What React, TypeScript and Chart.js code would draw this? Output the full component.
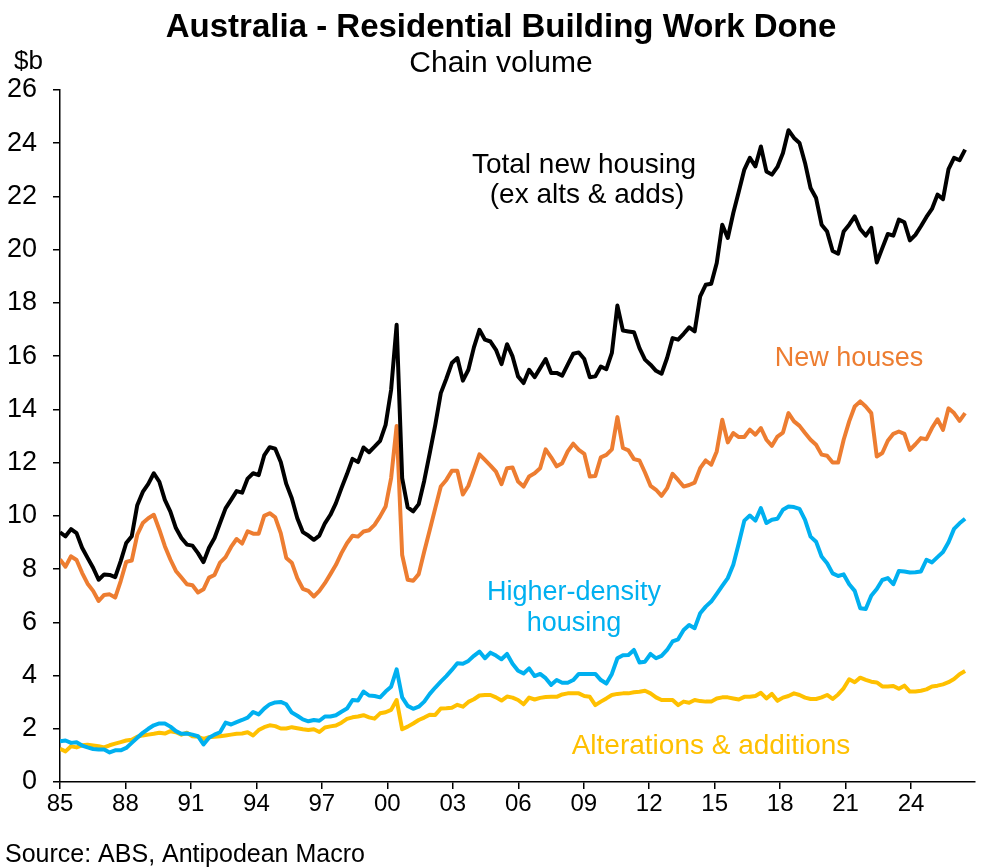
import React, { useEffect, useRef } from "react";
import { Chart, registerables, Plugin } from "chart.js";

Chart.register(...registerables);

const FONT = '"Liberation Sans", Arial, sans-serif';

// quarterly points, first one sits on the "85" tick
const START_YEAR = 1985;
const YEARS_PER_POINT = 0.2529;
const X_MIN = 1985;
const X_MAX = 2026.93;
const X_TICK_YEARS = [1985, 1988, 1991, 1994, 1997, 2000, 2003, 2006, 2009, 2012, 2015, 2018, 2021, 2024];

const Y_MIN = 0;
const Y_MAX = 26;
const Y_STEP = 2;

const totalNewHousing = [
  9.38, 9.23, 9.5, 9.35, 8.8, 8.42, 8.05, 7.6, 7.8, 7.78, 7.7, 8.3, 8.98, 9.23, 10.4, 10.9, 11.2, 11.6, 11.28, 10.6, 10.16,
  9.54, 9.17, 8.92, 8.88, 8.6, 8.26, 8.8, 9.17, 9.73, 10.28, 10.6, 10.93, 10.87, 11.4, 11.6, 11.53, 12.27, 12.58, 12.52,
  12.02, 11.2, 10.66,
  9.91, 9.39, 9.26, 9.1, 9.26, 9.72, 10.04, 10.48, 11.04, 11.57, 12.14, 12.02, 12.57, 12.39, 12.6, 12.82, 13.42, 14.74,
  17.18, 11.42, 10.32, 10.17, 10.44, 11.32, 12.36, 13.42, 14.61, 15.15, 15.74, 15.93, 15.08, 15.49, 16.33, 16.99, 16.62,
  16.55, 16.24, 15.7, 16.45, 15.99, 15.24, 14.99, 15.49,
  15.21, 15.55, 15.89, 15.37, 15.37, 15.27, 15.68, 16.09, 16.14, 15.89, 15.21, 15.24, 15.61, 15.51, 16.12, 17.9, 16.96,
  16.93, 16.9, 16.3, 15.87, 15.68, 15.45, 15.34, 15.93, 16.68, 16.62, 16.84, 17.08, 16.93, 18.25, 18.68, 18.72, 19.5,
  20.94, 20.44, 21.38, 22.19, 23.01, 23.45, 23.13, 23.88, 22.94, 22.82,
  23.11, 23.63, 24.49, 24.2, 24.01, 23.26, 22.32, 21.94, 20.94, 20.68, 19.95, 19.85, 20.68, 20.94, 21.25, 20.78, 20.53,
  20.82, 19.52, 20.06, 20.59, 20.53, 21.13, 21.03, 20.35, 20.56, 20.88, 21.23, 21.53, 22.07, 21.9, 23.03, 23.45, 23.36,
  23.76,
];

const newHouses = [
  8.36, 8.09, 8.48, 8.34, 7.86, 7.45, 7.18, 6.8, 7.03, 7.05, 6.93, 7.55, 8.27, 8.32, 9.29, 9.73, 9.91, 10.04, 9.48, 8.86,
  8.36, 7.93, 7.68, 7.43, 7.39, 7.12, 7.24, 7.68, 7.78, 8.24, 8.45, 8.83, 9.13, 8.96, 9.42, 9.33, 9.33, 10.0, 10.1, 9.94,
  9.35, 8.42, 8.24,
  7.66, 7.26, 7.18, 6.97, 7.18, 7.47, 7.81, 8.16, 8.6, 8.97, 9.25, 9.22, 9.41, 9.46, 9.66, 9.98, 10.35, 11.42, 13.38, 8.53,
  7.6, 7.56, 7.81, 8.66, 9.47, 10.29, 11.1, 11.35, 11.69, 11.69, 10.8, 11.13, 11.72, 12.31, 12.1, 11.89, 11.66, 11.19,
  11.79, 11.82, 11.29, 11.1, 11.48,
  11.6, 11.79, 12.5, 12.2, 11.86, 11.98, 12.42, 12.71, 12.48, 12.33, 11.48, 11.5, 12.2, 12.29, 12.5, 13.71, 12.55, 12.46,
  12.13, 12.08, 11.63, 11.13, 10.98, 10.75, 11.04, 11.58, 11.35, 11.1, 11.16, 11.25, 11.79, 12.08, 11.92, 12.42, 13.61,
  12.76, 13.11, 12.96, 12.96, 13.24, 13.05, 13.3, 12.86, 12.63,
  12.98, 13.13, 13.86, 13.55, 13.38, 13.11, 12.86, 12.67, 12.3, 12.26, 12.0, 12.0, 12.86, 13.55, 14.11, 14.3, 14.11,
  13.86, 12.23, 12.36, 12.82, 13.08, 13.17, 13.08, 12.48, 12.69, 12.92, 12.88, 13.3, 13.63, 13.23, 14.04, 13.86, 13.57,
  13.86,
];

const higherDensity = [
  1.53, 1.56, 1.47, 1.49, 1.37, 1.3, 1.24, 1.22, 1.22, 1.11, 1.19, 1.19, 1.28, 1.47, 1.66, 1.85, 2.0, 2.13, 2.2, 2.2, 2.08,
  1.91, 1.81, 1.82, 1.78, 1.72, 1.41, 1.66, 1.78, 1.87, 2.23, 2.16, 2.25, 2.33, 2.42, 2.63, 2.54, 2.76, 2.92, 2.99, 3.01,
  2.92, 2.61,
  2.49, 2.35, 2.28, 2.33, 2.3, 2.46, 2.46, 2.51, 2.64, 2.76, 3.08, 3.06, 3.4, 3.25, 3.23, 3.18, 3.4, 3.58, 4.23, 3.18, 2.86,
  2.75, 2.83, 3.02, 3.31, 3.55, 3.77, 3.98, 4.21, 4.46, 4.44, 4.55, 4.74, 4.9, 4.65, 4.86, 4.75, 4.61, 4.81, 4.44, 4.18,
  4.08, 4.27,
  3.98, 4.06, 3.9, 3.65, 3.83, 3.73, 3.73, 3.83, 4.06, 4.06, 4.06, 4.06, 3.83, 3.7, 4.06, 4.65, 4.76, 4.77, 4.96, 4.49,
  4.52, 4.81, 4.65, 4.74, 4.96, 5.28, 5.36, 5.71, 5.9, 5.78, 6.34, 6.59, 6.78, 7.07, 7.37, 7.66, 8.16, 8.97, 9.82, 10.01,
  9.82, 10.29, 9.73, 9.85,
  9.89, 10.23, 10.35, 10.33, 10.26, 9.85, 9.22, 9.03, 8.47, 8.22, 7.84, 7.74, 7.8, 7.43, 7.18, 6.53, 6.5, 7.0, 7.25, 7.59,
  7.66, 7.43, 7.93, 7.91, 7.87, 7.88, 7.91, 8.35, 8.25, 8.45, 8.64, 9.01, 9.51, 9.72, 9.89,
];

const alterations = [
  1.25, 1.15, 1.34, 1.3, 1.38, 1.4, 1.37, 1.34, 1.3, 1.38, 1.44, 1.5, 1.56, 1.59, 1.7, 1.75, 1.78, 1.81, 1.85, 1.82, 1.91,
  1.87, 1.78, 1.85, 1.72, 1.7, 1.62, 1.68, 1.7, 1.72, 1.75, 1.78, 1.81, 1.82, 1.87, 1.75, 1.95, 2.06, 2.13, 2.1, 2.01,
  2.01, 2.06,
  2.02, 1.98, 1.95, 1.98, 1.88, 2.05, 2.09, 2.12, 2.23, 2.37, 2.43, 2.46, 2.51, 2.43, 2.38, 2.58, 2.62, 2.71, 3.08, 1.98,
  2.08, 2.2, 2.33, 2.42, 2.53, 2.52, 2.76, 2.77, 2.79, 2.9, 2.83, 3.01, 3.11, 3.25, 3.27, 3.27, 3.18, 3.06, 3.21, 3.17,
  3.08, 2.92, 3.17,
  3.1, 3.16, 3.19, 3.2, 3.2, 3.29, 3.33, 3.33, 3.33, 3.23, 3.2, 2.89, 3.02, 3.14, 3.27, 3.31, 3.33, 3.33, 3.37, 3.39, 3.43,
  3.33, 3.18, 3.08, 3.08, 3.08, 2.89, 3.02, 2.98, 3.08, 3.04, 3.02, 3.02, 3.14, 3.18, 3.18, 3.14, 3.1, 3.2, 3.2, 3.23,
  3.35, 3.14, 3.31,
  3.05, 3.17, 3.23, 3.33, 3.27, 3.17, 3.12, 3.12, 3.18, 3.27, 3.12, 3.29, 3.52, 3.86, 3.75, 3.92, 3.84, 3.77, 3.74, 3.59,
  3.59, 3.61, 3.5, 3.62, 3.4, 3.4, 3.43, 3.48, 3.59, 3.62, 3.67, 3.75, 3.87, 4.05, 4.17,
];

const BLACK = "#000000";
const ORANGE = "#ED7D31";
const BLUE = "#00B0F0";
const YELLOW = "#FFC000";

const toPoints = (values: number[]) =>
  values.map((v, i) => ({ x: START_YEAR + i * YEARS_PER_POINT, y: v }));

const textPlugin: Plugin<"line"> = {
  id: "textPlugin",
  afterDraw(chart) {
    const { ctx } = chart;
    const put = (text: string, x: number, y: number, size: number, color: string, align: CanvasTextAlign, bold = false) => {
      ctx.font = `${bold ? "bold " : ""}${size}px ${FONT}`;
      ctx.fillStyle = color;
      ctx.textAlign = align;
      ctx.textBaseline = "alphabetic";
      ctx.fillText(text, x, y);
    };
    ctx.save();
    put("Australia - Residential Building Work Done", 501, 37, 33, BLACK, "center", true);
    put("Chain volume", 501, 72, 30, BLACK, "center");
    put("$b", 14, 69, 26, BLACK, "left");
    put("Total new housing", 584, 173, 28, BLACK, "center");
    put("(ex alts & adds)", 587, 203, 28, BLACK, "center");
    put("New houses", 849, 366, 27, ORANGE, "center");
    put("Higher-density", 574, 600, 27, BLUE, "center");
    put("housing", 574, 631, 27, BLUE, "center");
    put("Alterations & additions", 711, 754, 28, YELLOW, "center");
    put("Source: ABS, Antipodean Macro", 5, 862, 25, BLACK, "left");
    ctx.restore();
  },
};

const App: React.FC = () => {
  const canvasRef = useRef<HTMLCanvasElement | null>(null);

  useEffect(() => {
    document.body.style.margin = "0";
    const ctx = canvasRef.current?.getContext("2d");
    if (!ctx) return;

    const line = (label: string, values: number[], color: string) => ({
      label,
      data: toPoints(values),
      borderColor: color,
      backgroundColor: color,
      borderWidth: 4,
      pointRadius: 0,
      tension: 0,
      borderJoinStyle: "round" as const,
      fill: false,
    });

    const chart = new Chart(ctx, {
      type: "line",
      data: {
        datasets: [
          line("Total new housing (ex alts & adds)", totalNewHousing, BLACK),
          line("New houses", newHouses, ORANGE),
          line("Higher-density housing", higherDensity, BLUE),
          line("Alterations & additions", alterations, YELLOW),
        ],
      },
      options: {
        animation: false,
        responsive: true,
        maintainAspectRatio: false,
        layout: { padding: { top: 90, right: 31, left: 0, bottom: 0 } },
        plugins: {
          legend: { display: false },
          title: { display: false },
          tooltip: { enabled: false },
        },
        scales: {
          x: {
            type: "linear",
            min: X_MIN,
            max: X_MAX,
            afterBuildTicks: (scale) => {
              scale.ticks = X_TICK_YEARS.map((v) => ({ value: v }));
            },
            afterFit: (scale) => {
              scale.height = 85;
            },
            grid: { drawOnChartArea: false, drawTicks: true, tickLength: 7, color: BLACK, lineWidth: 1.5 },
            border: { display: true, color: BLACK, width: 1.5 },
            ticks: {
              autoSkip: false,
              maxRotation: 0,
              padding: 1,
              color: BLACK,
              font: { family: FONT, size: 24 },
              callback: (v) => String(Math.round(Number(v)) % 100).padStart(2, "0"),
            },
          },
          y: {
            min: Y_MIN,
            max: Y_MAX,
            afterFit: (scale) => {
              scale.width = 60;
            },
            grid: { drawOnChartArea: false, drawTicks: true, tickLength: 7, color: BLACK, lineWidth: 1.5 },
            border: { display: true, color: BLACK, width: 1.5 },
            ticks: {
              stepSize: Y_STEP,
              padding: 16,
              color: BLACK,
              font: { family: FONT, size: 27 },
            },
          },
        },
      },
      plugins: [textPlugin],
    });

    return () => {
      chart.destroy();
    };
  }, []);

  return (
    <div style={{ position: "relative", width: "1006px", height: "867px" }}>
      <canvas ref={canvasRef} />
    </div>
  );
};

export default App;
